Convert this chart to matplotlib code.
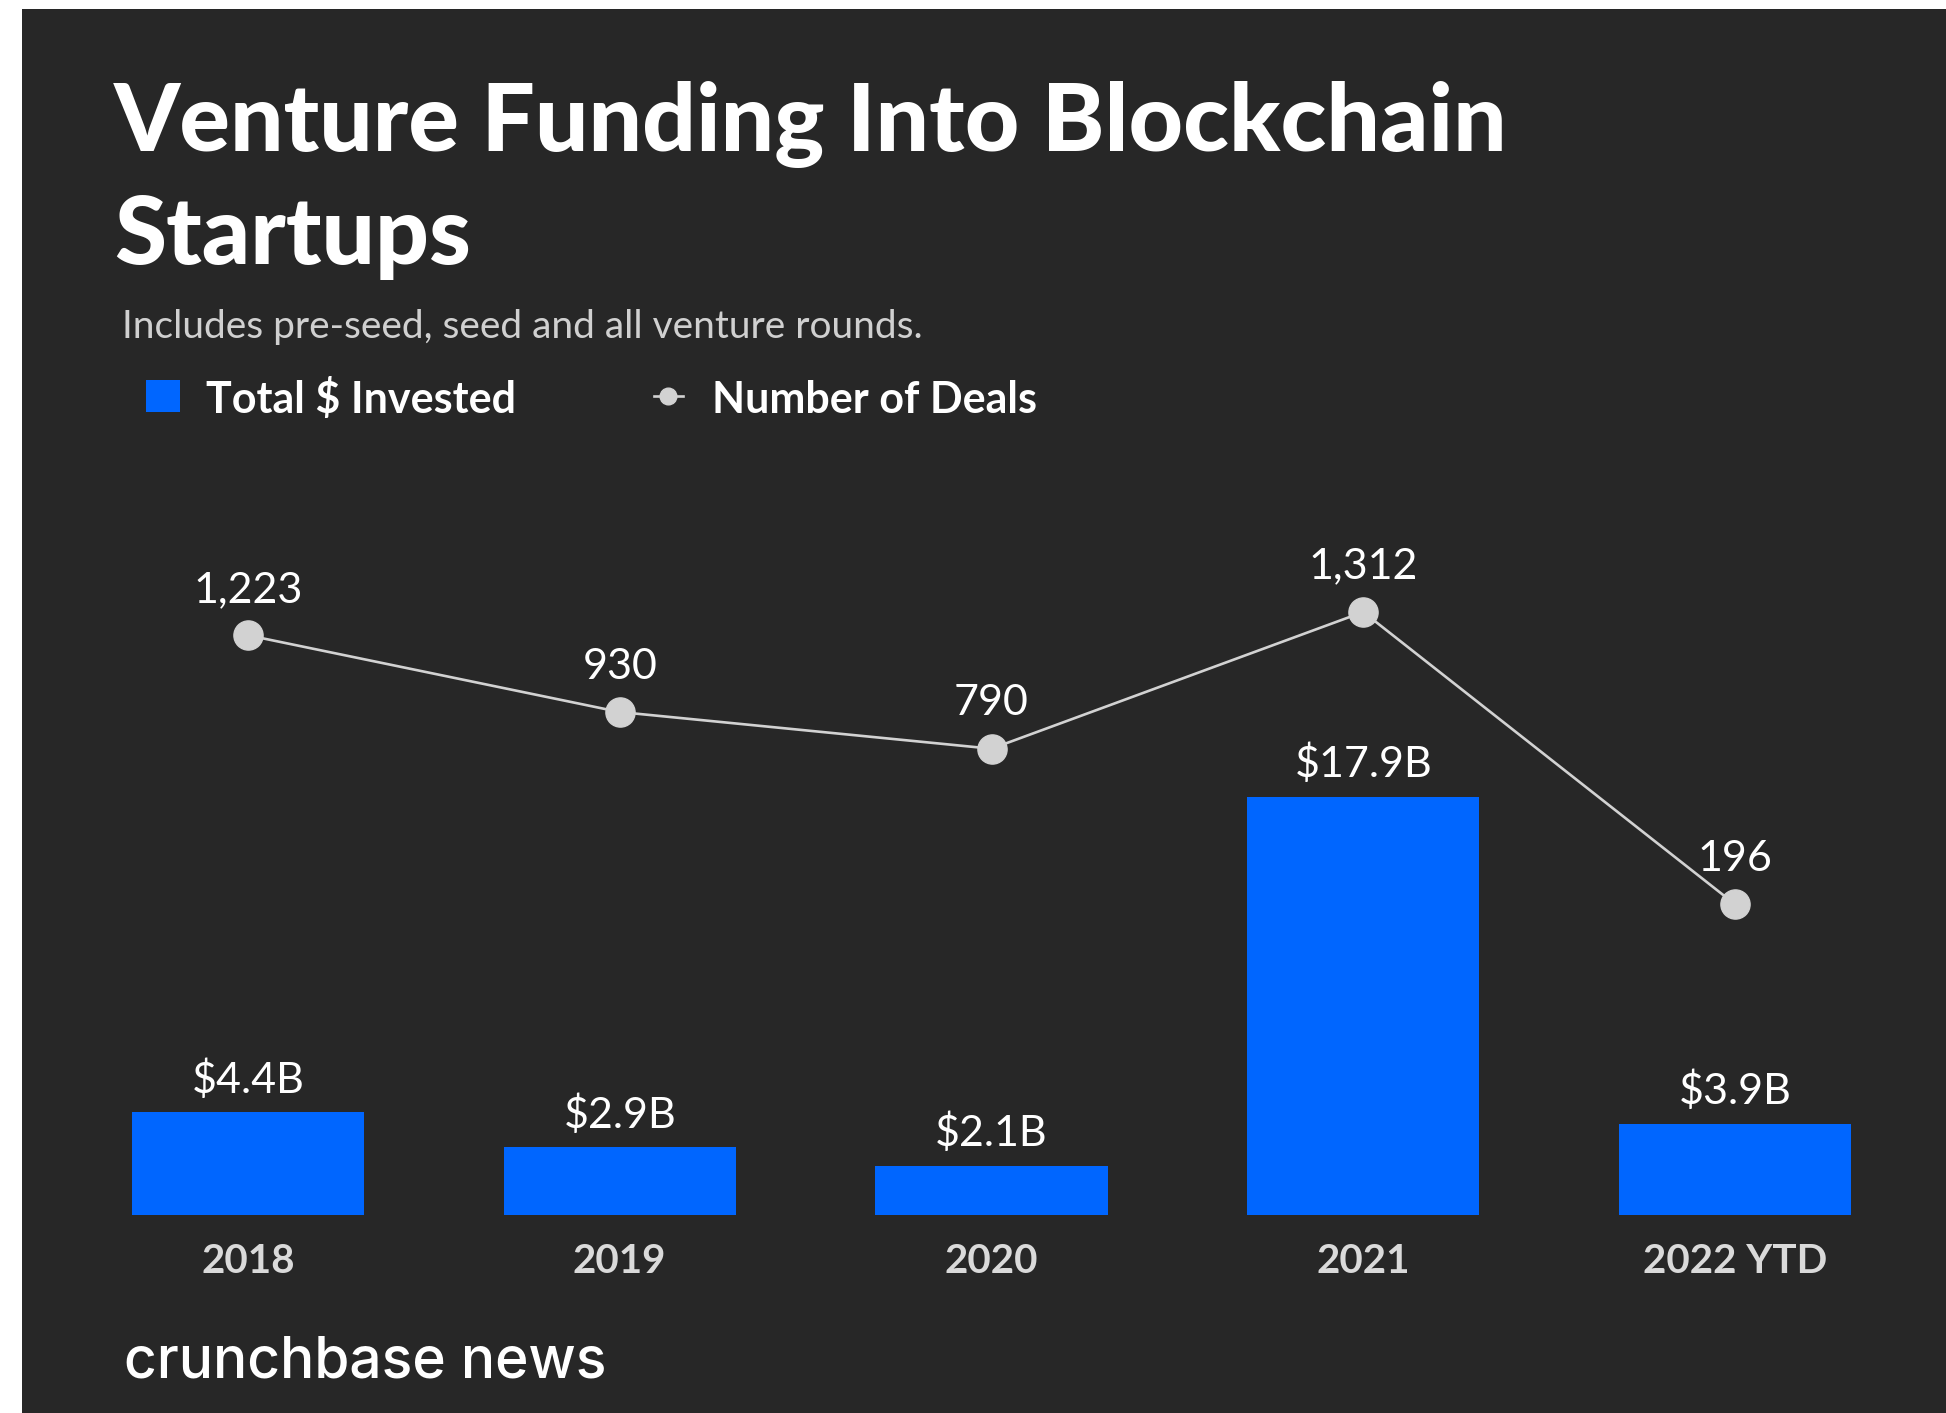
import matplotlib
matplotlib.use("Agg")
import matplotlib.pyplot as plt
from matplotlib.patches import Rectangle
from matplotlib.lines import Line2D

# ---- data ----
categories = ["2018", "2019", "2020", "2021", "2022 YTD"]
invested_b = [4.4, 2.9, 2.1, 17.9, 3.9]
invested_labels = ["$4.4B", "$2.9B", "$2.1B", "$17.9B", "$3.9B"]
deals = [1223, 930, 790, 1312, 196]
deal_labels = ["1,223", "930", "790", "1,312", "196"]

title_lines = ["Venture Funding Into Blockchain", "Startups"]
subtitle = "Includes pre-seed, seed and all venture rounds."
legend_labels = ["Total $ Invested", "Number of Deals"]
footer = "crunchbase news"

# ---- style ----
BG = "#272727"
BLUE = "#0066FF"
GREY = "#D2D2D2"
FONT = "Lato"

W, H = 1946, 1413
fig = plt.figure(figsize=(W / 100, H / 100), dpi=100, facecolor="white")

def fx(px):
    return px / W

def fy(py):
    return 1 - py / H

# dark panel
fig.patches.append(Rectangle((fx(22), 0), 1 - fx(22), fy(9), transform=fig.transFigure,
                             facecolor=BG, edgecolor="none", zorder=-5))

# axes: y from 450 (top) to 1215 (bottom) in pixels
ax_bottom = fy(1215)
ax_top = fy(450)
ax = fig.add_axes([0, ax_bottom, 1, ax_top - ax_bottom])
ax.set_facecolor("none")
x = list(range(len(categories)))
spacing = (1735 - 248) / 4
ax.set_xlim(-248 / spacing, (W - 248) / spacing)
ax.set_ylim(0, (1215 - 450) / 23.37)

ax.bar(x, invested_b, width=0.625, color=BLUE, zorder=2)
for xi, v, lab in zip(x, invested_b, invested_labels):
    ax.annotate(lab, (xi, v), xytext=(0, 14), textcoords="offset points",
                ha="center", va="baseline", color="white", fontsize=31, family=FONT)

ax.set_xticks(x)
ax.set_xticklabels(categories, fontsize=29, color="#DADADA", family=FONT, fontweight="bold")
ax.tick_params(axis="x", length=0, pad=20)
ax.set_yticks([])
for s in ax.spines.values():
    s.set_visible(False)

ax2 = ax.twinx()
ax2.set_ylim(-(1215 - 955.6) / 0.2619, (955.6 - 450) / 0.2619)
ax2.plot(x, deals, color=GREY, lw=1.9, marker="o", markersize=21,
         markerfacecolor=GREY, markeredgecolor=GREY, zorder=3)
for xi, v, lab in zip(x, deals, deal_labels):
    ax2.annotate(lab, (xi, v), xytext=(0, 24), textcoords="offset points",
                 ha="center", va="baseline", color="white", fontsize=31, family=FONT)
ax2.set_yticks([])
for s in ax2.spines.values():
    s.set_visible(False)

# titles
fig.text(fx(114), fy(151), title_lines[0], color="white", fontsize=68, fontweight="black",
         family=FONT, ha="left", va="baseline")
fig.text(fx(114), fy(264), title_lines[1], color="white", fontsize=68, fontweight="black",
         family=FONT, ha="left", va="baseline")
fig.text(fx(122), fy(338), subtitle, color="#D0D0D0", fontsize=28, family=FONT,
         ha="left", va="baseline")

# legend
fig.patches.append(Rectangle((fx(146), fy(412)), fx(34), 32 / H, transform=fig.transFigure,
                             facecolor=BLUE, edgecolor="none"))
fig.text(fx(206), fy(413), legend_labels[0], color="white", fontsize=31, fontweight="bold",
         family=FONT, ha="left", va="baseline")
fig.lines.append(Line2D([fx(654), fx(683)], [fy(396), fy(396)], transform=fig.transFigure,
                        color=GREY, lw=1.9))
fig.lines.append(Line2D([fx(668)], [fy(396)], transform=fig.transFigure,
                        color=GREY, marker="o", markersize=12, markeredgecolor=GREY))
fig.text(fx(712), fy(413), legend_labels[1], color="white", fontsize=31, fontweight="bold",
         family=FONT, ha="left", va="baseline")

# footer
fig.text(fx(124), fy(1378), footer, color="white", fontsize=41, fontweight="medium",
         family="Inter", ha="left", va="baseline")

fig.savefig("out.png", dpi=100, facecolor="white")
